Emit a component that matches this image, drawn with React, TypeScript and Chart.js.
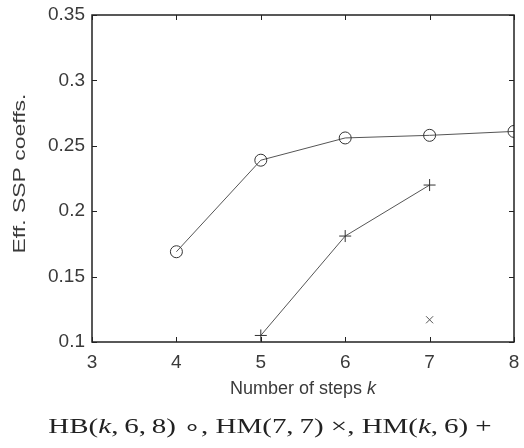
import React, { useEffect, useRef } from "react";
import { Chart, registerables } from "chart.js";

Chart.register(...registerables);

const xTicks = [3, 4, 5, 6, 7, 8];
const yTicks = [0.1, 0.15, 0.2, 0.25, 0.3, 0.35];

const hbK = [4, 5, 6, 7, 8];
const hbVals = [0.169, 0.239, 0.256, 0.258, 0.261];

const hm6K = [5, 6, 7];
const hm6Vals = [0.105, 0.181, 0.22];

const hm77K = [7];
const hm77Vals = [0.117];

const xTitle = "Number of steps ";
const xTitleVar = "k";
const yTitle = "Eff. SSP coeffs.";

const FONT = "'Liberation Sans', Arial, sans-serif";
const AXIS = "#222";
const TEXT = "#3a3a3a";
const LINE = "#555";

const pts = (xs: number[], ys: number[]) => xs.map((x, i) => ({ x, y: ys[i] }));

const framePlugin = {
  id: "frameTicks",
  afterDraw(chart: any) {
    const { ctx, chartArea, scales } = chart;
    const { left, right, top, bottom } = chartArea;
    const xs = scales.x;
    const ys = scales.y;
    ctx.save();
    ctx.strokeStyle = AXIS;
    ctx.lineWidth = 1.5;
    ctx.strokeRect(left, top, right - left, bottom - top);
    ctx.lineWidth = 1;
    const L = 5;
    ctx.beginPath();
    xTicks.forEach((v) => {
      const px = Math.round(xs.getPixelForValue(v)) + 0.5;
      ctx.moveTo(px, bottom);
      ctx.lineTo(px, bottom - L);
      ctx.moveTo(px, top);
      ctx.lineTo(px, top + L);
    });
    yTicks.forEach((v) => {
      const py = Math.round(ys.getPixelForValue(v)) + 0.5;
      ctx.moveTo(left, py);
      ctx.lineTo(left + L, py);
      ctx.moveTo(right, py);
      ctx.lineTo(right - L, py);
    });
    ctx.stroke();

    // x-axis title with italic variable
    ctx.fillStyle = TEXT;
    ctx.textBaseline = "middle";
    ctx.textAlign = "left";
    const normalFont = `18px ${FONT}`;
    const italicFont = `italic 18px ${FONT}`;
    ctx.font = normalFont;
    const w1 = ctx.measureText(xTitle).width;
    ctx.font = italicFont;
    const w2 = ctx.measureText(xTitleVar).width;
    const cx = (left + right) / 2;
    const ty = bottom + 47;
    const sx = cx - (w1 + w2) / 2;
    ctx.font = normalFont;
    ctx.fillText(xTitle, sx, ty);
    ctx.font = italicFont;
    ctx.fillText(xTitleVar, sx + w1, ty);

    // y-axis title, rotated
    ctx.save();
    ctx.translate(20, (top + bottom) / 2 - 5);
    ctx.rotate(-Math.PI / 2);
    ctx.scale(1.35, 1);
    ctx.font = `17px ${FONT}`;
    ctx.textAlign = "center";
    ctx.textBaseline = "middle";
    ctx.fillText(yTitle, 0, 0);
    ctx.restore();

    ctx.restore();
  },
};

export default function App() {
  const ref = useRef<HTMLCanvasElement | null>(null);

  useEffect(() => {
    if (!ref.current) return;
    const chart = new Chart(ref.current, {
      type: "scatter",
      data: {
        datasets: [
          {
            label: "HB(k,6,8)",
            data: pts(hbK, hbVals),
            showLine: true,
            borderColor: LINE,
            borderWidth: 1,
            pointStyle: "circle",
            pointRadius: 6,
            pointBorderColor: "#333",
            pointBackgroundColor: "rgba(0,0,0,0)",
            pointBorderWidth: 1,
          },
          {
            label: "HM(k,6)",
            data: pts(hm6K, hm6Vals),
            showLine: true,
            borderColor: LINE,
            borderWidth: 1,
            pointStyle: "cross",
            pointRadius: 6,
            pointBorderColor: "#333",
            pointBorderWidth: 1,
          },
          {
            label: "HM(7,7)",
            data: pts(hm77K, hm77Vals),
            showLine: false,
            pointStyle: "crossRot",
            pointRadius: 5,
            pointBorderColor: "#555",
            pointBorderWidth: 1,
          },
        ],
      },
      options: {
        animation: false,
        responsive: true,
        maintainAspectRatio: false,
        layout: { padding: { left: 0, right: 10, top: 15, bottom: 48 } },
        plugins: { legend: { display: false }, tooltip: { enabled: false } },
        scales: {
          x: {
            type: "linear",
            min: 3,
            max: 8,
            afterBuildTicks: (s: any) => {
              s.ticks = xTicks.map((v) => ({ value: v }));
            },
            afterFit: (s: any) => {
              s.height = 58;
              s.paddingLeft = 0;
              s.paddingRight = 0;
            },
            grid: { display: false, drawTicks: false },
            border: { display: false },
            ticks: {
              color: TEXT,
              font: { family: FONT, size: 19 },
              padding: 9,
              maxRotation: 0,
            },
          },
          y: {
            type: "linear",
            min: 0.1,
            max: 0.35,
            afterBuildTicks: (s: any) => {
              s.ticks = yTicks.map((v) => ({ value: v }));
            },
            afterFit: (s: any) => {
              s.width = 92;
              s.paddingTop = 0;
              s.paddingBottom = 0;
            },
            grid: { display: false, drawTicks: false },
            border: { display: false },
            ticks: {
              color: TEXT,
              font: { family: FONT, size: 19 },
              padding: 7,
              callback: (v: any) => String(Number(v)),
            },
          },
        },
      },
      plugins: [framePlugin],
    });
    return () => chart.destroy();
  }, []);

  return (
    <div style={{ position: "absolute", left: 0, top: 0, width: 524, height: 448, background: "#fff" }}>
      <canvas ref={ref} />
      <div
        style={{
          position: "absolute",
          left: 270,
          top: 416,
          lineHeight: "21px",
          transform: "translateX(-50%) scaleX(1.38)",
          fontFamily: "'Liberation Serif', 'Times New Roman', serif",
          fontSize: 21,
          color: "#222",
          whiteSpace: "nowrap",
        }}
      >
        HB(<i>k</i>,&thinsp;6,&thinsp;8)&nbsp;∘, HM(7,&thinsp;7)&nbsp;×, HM(<i>k</i>,&thinsp;6)&nbsp;+
      </div>
    </div>
  );
}
